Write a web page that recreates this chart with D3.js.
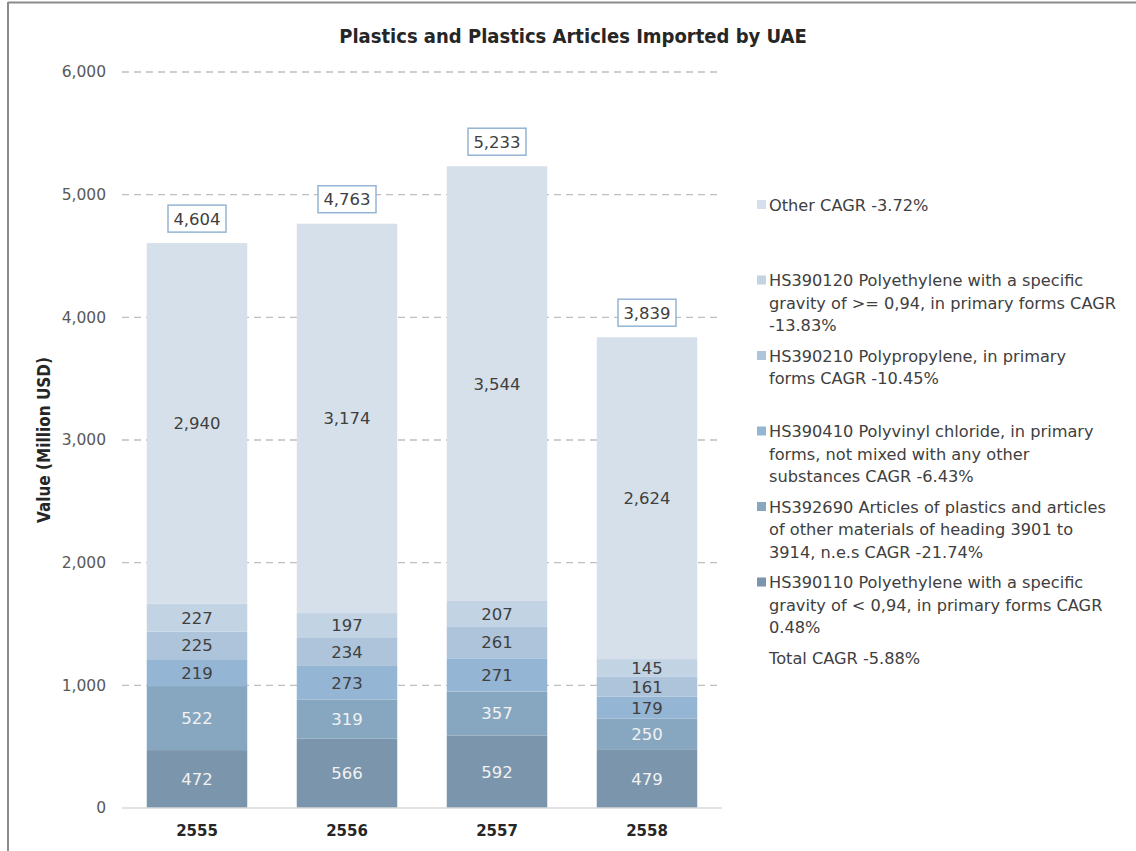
<!DOCTYPE html>
<html><head><meta charset="utf-8">
<script src="https://cdn.jsdelivr.net/npm/d3@7"></script>
<style>
body{margin:0;background:#fff;}
svg text{font-family:"DejaVu Sans",sans-serif;}
</style></head>
<body><svg id="c" width="1136" height="851"></svg>
<script>
const years = ["2555","2556","2557","2558"];
const seriesNames = ["HS390110","HS392690","HS390410","HS390210","HS390120","Other"];
const HS390110 = [472,566,592,479];
const HS392690 = [522,319,357,250];
const HS390410 = [219,273,271,179];
const HS390210 = [225,234,261,161];
const HS390120 = [227,197,207,145];
const Other = [2940,3174,3544,2624];
const totals = [4604,4763,5233,3839];
const yTicks = [0,1000,2000,3000,4000,5000,6000];
const legendEntries = [
  {key:"Other", lines:["Other CAGR -3.72%"]},
  {key:"HS390120", lines:["HS390120 Polyethylene with a specific","gravity of >= 0,94, in primary forms CAGR","-13.83%"]},
  {key:"HS390210", lines:["HS390210 Polypropylene, in primary","forms CAGR -10.45%"]},
  {key:"HS390410", lines:["HS390410 Polyvinyl chloride, in primary","forms, not mixed with any other","substances CAGR -6.43%"]},
  {key:"HS392690", lines:["HS392690 Articles of plastics and articles","of other materials of heading 3901 to","3914, n.e.s CAGR -21.74%"]},
  {key:"HS390110", lines:["HS390110 Polyethylene with a specific","gravity of < 0,94, in primary forms CAGR","0.48%"]},
  {key:null, lines:["Total CAGR -5.88%"]}
];
const colors = {HS390110:"#7a95ac",HS392690:"#87a7c1",HS390410:"#94b5d3",HS390210:"#adc4da",HS390120:"#c2d3e4",Other:"#d6e0ea"};
const labelColors = {HS390110:"#f2f2f2",HS392690:"#f2f2f2",HS390410:"#404040",HS390210:"#404040",HS390120:"#404040",Other:"#404040"};
const seriesData = {HS390110,HS392690,HS390410,HS390210,HS390120,Other};

const svg = d3.select("#c");
// frame
svg.append("line").attr("x1",8).attr("x2",1136).attr("y1",2.5).attr("y2",2.5).attr("stroke","#8c8c8c").attr("stroke-width",2);
svg.append("line").attr("x1",8).attr("x2",8).attr("y1",2).attr("y2",851).attr("stroke","#8c8c8c").attr("stroke-width",2);

const x = d3.scaleBand().domain(years).range([122,722]).paddingInner(0.33).paddingOuter(0.165);
const y = d3.scaleLinear().domain([0,6000]).range([808,72]);

// gridlines
svg.append("g").selectAll("line").data(yTicks.filter(d=>d>0)).join("line")
  .attr("x1",122).attr("x2",722).attr("y1",d=>y(d)).attr("y2",d=>y(d))
  .attr("stroke","#bfbfbf").attr("stroke-width",1.3).attr("stroke-dasharray","7,5");

// y axis
const yAxis = d3.axisLeft(y).tickValues(yTicks).tickFormat(d3.format(",")).tickSize(0).tickPadding(0);
const ga = svg.append("g").attr("transform","translate(106,0)").call(yAxis);
ga.select(".domain").remove();
ga.selectAll("text").attr("font-size",15.5).attr("fill","#595959");

// stack
const rows = years.map((yr,i)=>{const o={year:yr}; seriesNames.forEach(s=>o[s]=seriesData[s][i]); return o;});
const stack = d3.stack().keys(seriesNames)(rows);
const g = svg.append("g");
stack.forEach(layer=>{
  const k = layer.key;
  g.selectAll(null).data(layer).join("rect")
    .attr("x",d=>x(d.data.year)).attr("width",x.bandwidth())
    .attr("y",d=>y(d[1])).attr("height",d=>y(d[0])-y(d[1]))
    .attr("fill",colors[k]);
  g.selectAll(null).data(layer).join("text")
    .attr("x",d=>x(d.data.year)+x.bandwidth()/2)
    .attr("y",d=>(y(d[0])+y(d[1]))/2)
    .attr("dy","0.36em").attr("text-anchor","middle")
    .attr("font-size",16.5).attr("fill",labelColors[k])
    .text(d=>d3.format(",")(d.data[k]));
});

// baseline
svg.append("line").attr("x1",122).attr("x2",722).attr("y1",y(0)).attr("y2",y(0)).attr("stroke","#d9d9d9").attr("stroke-width",1.3);

// x axis labels
const xAxis = d3.axisBottom(x).tickSize(0).tickPadding(0);
const gx = svg.append("g").attr("transform","translate(0,825)").call(xAxis);
gx.select(".domain").remove();
gx.selectAll("text").attr("font-size",15).attr("font-weight","bold").attr("fill","#262626");

// total labels
const tg = svg.append("g");
years.forEach((yr,i)=>{
  const cx = x(yr)+x.bandwidth()/2;
  const top = y(d3.sum(seriesNames,s=>seriesData[s][i]));
  const bw=58, bh=27;
  tg.append("rect").attr("x",cx-bw/2).attr("y",top-11-bh).attr("width",bw).attr("height",bh)
    .attr("fill","#fff").attr("stroke","#94b5d3").attr("stroke-width",1.5);
  tg.append("text").attr("x",cx).attr("y",top-11-bh/2).attr("dy","0.36em").attr("text-anchor","middle")
    .attr("font-size",16.5).attr("fill","#404040").text(d3.format(",")(totals[i]));
});

// title
svg.append("text").attr("x",573).attr("y",43).attr("text-anchor","middle")
  .attr("font-size",20).attr("font-weight","bold").attr("fill","#262626")
  .attr("style","font-family:'DejaVu Sans Condensed','DejaVu Sans',sans-serif")
  .text("Plastics and Plastics Articles Imported by UAE");

// y label
svg.append("text").attr("transform","translate(50,440) rotate(-90)").attr("text-anchor","middle")
  .attr("font-size",17).attr("font-weight","bold").attr("fill","#262626")
  .attr("style","font-family:'DejaVu Sans Condensed','DejaVu Sans',sans-serif")
  .text("Value (Million USD)");

// legend
const lg = svg.append("g");
legendEntries.forEach((e,i)=>{
  const y0 = 205 + i*75.5;
  if(e.key){
    lg.append("rect").attr("x",757).attr("y",y0-5).attr("width",9).attr("height",9).attr("fill",colors[e.key]);
  }
  e.lines.forEach((ln,j)=>{
    lg.append("text").attr("x",769).attr("y",y0+j*22.5).attr("dy","0.36em")
      .attr("font-size",16.2).attr("fill","#404040").text(ln);
  });
});
</script></body></html>
